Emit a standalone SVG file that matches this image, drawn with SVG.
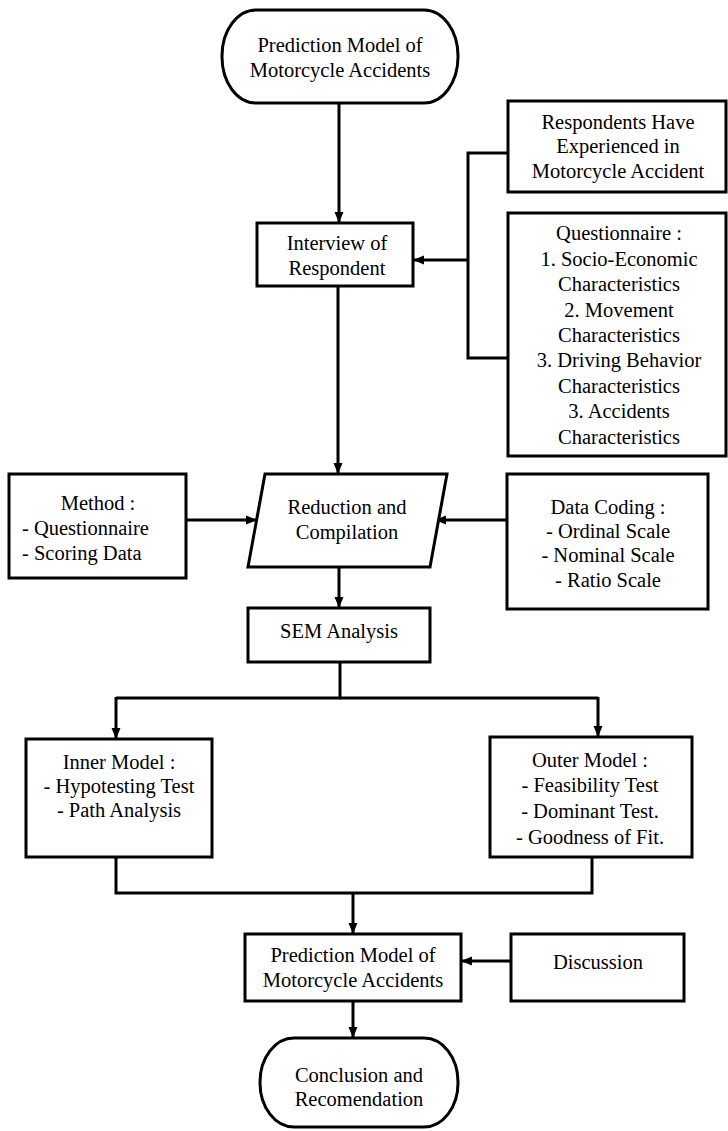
<svg xmlns="http://www.w3.org/2000/svg" width="728" height="1131" viewBox="0 0 728 1131">
<defs>
<marker id="ah" markerWidth="11" markerHeight="10" refX="10" refY="5" orient="auto" markerUnits="userSpaceOnUse">
<path d="M0,0.5 L11,5 L0,9.5 z" fill="#000"/>
</marker>
<style>
.n{fill:#fff;stroke:#000;stroke-width:3}
.c{fill:none;stroke:#000;stroke-width:3}
.a{marker-end:url(#ah)}
text{font-family:'Times New Roman','Liberation Serif','DejaVu Serif',serif;font-size:20.5px;fill:#000;text-anchor:middle}
.l{text-anchor:start}
</style>
</defs>
<rect width="728" height="1131" fill="#fff"/>
<g id="connectors">
<line class="c a" x1="339" y1="104" x2="339" y2="222"/>
<polyline class="c" points="508,153 468,153 468,358 508,358"/>
<line class="c a" x1="468" y1="260" x2="414" y2="260"/>
<line class="c a" x1="338" y1="287" x2="338" y2="473"/>
<line class="c a" x1="186" y1="520" x2="256" y2="520"/>
<line class="c a" x1="507" y1="520" x2="436" y2="520"/>
<line class="c a" x1="339" y1="567" x2="339" y2="607"/>
<polyline class="c" points="340,662 340,698 116,698"/>
<polyline class="c" points="340,698 598,698"/>
<line class="c a" x1="116" y1="697" x2="116" y2="738"/>
<line class="c a" x1="598" y1="697" x2="598" y2="736"/>
<polyline class="c" points="116,857 116,893 592,893 592,857"/>
<line class="c a" x1="353" y1="893" x2="353" y2="933"/>
<line class="c a" x1="511" y1="961" x2="462" y2="961"/>
<line class="c a" x1="353" y1="1001" x2="353" y2="1037"/>
</g>
<g id="start">
<rect class="n" x="222" y="10" width="236" height="93" rx="34" ry="46"/>
<text x="340" y="52">Prediction Model of</text>
<text x="340" y="77">Motorcycle Accidents</text>
</g>
<g id="respondents">
<rect class="n" x="508" y="101" width="218" height="91"/>
<text x="618" y="129">Respondents Have</text>
<text x="618" y="153">Experienced in</text>
<text x="618" y="178">Motorcycle Accident</text>
</g>
<g id="questionnaire">
<rect class="n" x="508" y="213" width="218" height="243"/>
<text x="619" y="240">Questionnaire :</text>
<text x="619" y="266">1. Socio-Economic</text>
<text x="619" y="291">Characteristics</text>
<text x="619" y="317">2. Movement</text>
<text x="619" y="342">Characteristics</text>
<text x="619" y="367">3. Driving Behavior</text>
<text x="619" y="393">Characteristics</text>
<text x="619" y="418">3. Accidents</text>
<text x="619" y="444">Characteristics</text>
</g>
<g id="interview">
<rect class="n" x="257" y="223" width="156" height="63"/>
<text x="337" y="250">Interview of</text>
<text x="337" y="275">Respondent</text>
</g>
<g id="method">
<rect class="n" x="9" y="474" width="177" height="104"/>
<text x="98" y="510">Method :</text>
<text class="l" x="22" y="535">- Questionnaire</text>
<text class="l" x="22" y="560">- Scoring Data</text>
</g>
<g id="reduction">
<polygon class="n" points="265,474 447,474 430,567 248,567"/>
<text x="347" y="514">Reduction and</text>
<text x="347" y="539">Compilation</text>
</g>
<g id="datacoding">
<rect class="n" x="507" y="474" width="201" height="135"/>
<text x="608" y="514">Data Coding :</text>
<text x="608" y="538">- Ordinal Scale</text>
<text x="608" y="562">- Nominal Scale</text>
<text x="608" y="587">- Ratio Scale</text>
</g>
<g id="sem">
<rect class="n" x="248" y="608" width="182" height="54"/>
<text x="339" y="638">SEM Analysis</text>
</g>
<g id="inner">
<rect class="n" x="26" y="739" width="186" height="118"/>
<text x="119" y="769">Inner Model :</text>
<text x="119" y="793">- Hypotesting Test</text>
<text x="119" y="817">- Path Analysis</text>
</g>
<g id="outer">
<rect class="n" x="490" y="737" width="202" height="120"/>
<text x="590" y="767">Outer Model :</text>
<text x="590" y="792">- Feasibility Test</text>
<text x="590" y="818">- Dominant Test.</text>
<text x="590" y="844">- Goodness of Fit.</text>
</g>
<g id="prediction">
<rect class="n" x="245" y="934" width="216" height="67"/>
<text x="353" y="962">Prediction Model of</text>
<text x="353" y="987">Motorcycle Accidents</text>
</g>
<g id="discussion">
<rect class="n" x="511" y="934" width="173" height="67"/>
<text x="598" y="969">Discussion</text>
</g>
<g id="conclusion">
<rect class="n" x="260" y="1038" width="198" height="89" rx="34" ry="44"/>
<text x="359" y="1082">Conclusion and</text>
<text x="359" y="1106">Recomendation</text>
</g>
</svg>
